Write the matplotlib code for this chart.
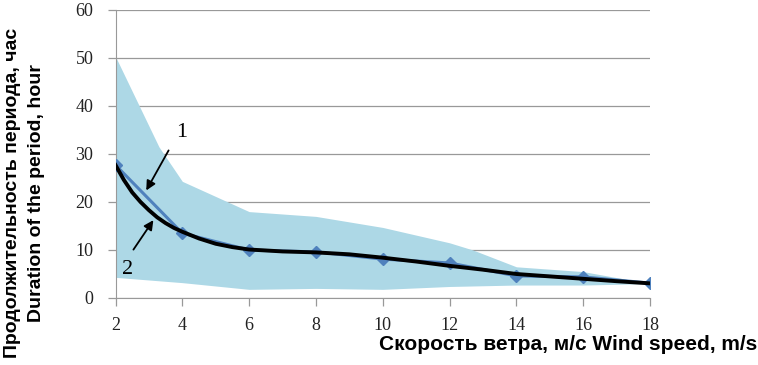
import matplotlib
matplotlib.use("Agg")
import matplotlib.pyplot as plt
import numpy as np

# Data
band_x = [2, 3.3, 4, 6, 8, 10, 12, 12.7, 14, 16, 18]
band_upper = [50.3, 31.5, 24.3, 18.0, 17.0, 14.7, 11.5, 10.0, 6.5, 5.5, 3.0]
band_lower_x = [2, 4, 6, 8, 10, 12, 14, 16, 18]
band_lower = [4.3, 3.2, 1.8, 2.0, 1.8, 2.4, 2.7, 2.7, 3.0]

speed = [2, 4, 6, 8, 10, 12, 14, 16, 18]
duration = [27.7, 13.5, 10.0, 9.6, 8.1, 7.3, 4.6, 4.4, 3.1]

trend_x = [2, 2.25, 2.5, 2.75, 3, 3.25, 3.5, 3.75, 4, 4.5, 5, 5.5, 6, 7, 8, 9, 10, 11, 12, 13, 14, 15, 16, 17, 18]
trend_y = [27.7, 24.6, 22.0, 20.0, 18.3, 16.8, 15.6, 14.6, 13.8, 12.4, 11.3, 10.6, 10.1, 9.7, 9.5, 9.1, 8.4, 7.6, 6.7, 5.9, 5.0, 4.5, 4.0, 3.5, 3.05]

xticks = [2, 4, 6, 8, 10, 12, 14, 16, 18]
yticks = [0, 10, 20, 30, 40, 50, 60]

fig = plt.figure(figsize=(7.58, 3.65), dpi=100)
ax = fig.add_axes([115.5/758, 67/365, (650-115.5)/758, 288/365])

xs = np.union1d(band_x, band_lower_x)
upper_on = np.interp(xs, band_x, band_upper)
lower_on = np.interp(xs, band_lower_x, band_lower)
ax.fill_between(xs, lower_on, upper_on, color="#add8e6", linewidth=0, zorder=2)

ax.plot(speed, duration, color="#4f81bd", lw=2.2, marker="D", ms=6, zorder=3)
ax.plot(trend_x, trend_y, color="black", lw=2.8, zorder=4)

ax.set_xlim(2, 18)
ax.set_ylim(0, 60)
ax.set_xticks(xticks)
ax.set_yticks(yticks)
ax.grid(axis="y", color="#999999", lw=0.9, zorder=0)
ax.set_axisbelow(True)
for s in ["top", "right"]:
    ax.spines[s].set_visible(False)
for s in ["left", "bottom"]:
    ax.spines[s].set_color("#999999")
ax.tick_params(axis="both", colors="#999999", length=6, width=0.9,
               labelsize=13, labelcolor="#222222")
ax.tick_params(axis="y", pad=10)
ax.tick_params(axis="x", pad=8)
for lab in ax.get_xticklabels() + ax.get_yticklabels():
    lab.set_family("Liberation Serif")

fam = ["Liberation Sans", "DejaVu Sans"]
fig.text(757/758, 20/365, "Скорость ветра, м/с Wind speed, m/s", family=fam,
         fontweight="bold", fontsize=15, ha="right", va="center")
fig.text(13/758, 172/365, "Продолжительность периода, час", family=fam,
         fontweight="bold", fontsize=14, rotation=90, ha="center", va="center")
fig.text(37/758, 172/365, "Duration of the period, hour", family=fam,
         fontweight="bold", fontsize=14, rotation=90, ha="center", va="center")

ax.annotate("", xy=(2.88, 21.9), xytext=(3.63, 31.25),
            arrowprops=dict(arrowstyle="-|>", color="black", lw=1.3, mutation_scale=14), zorder=6)
ax.annotate("", xy=(3.18, 16.7), xytext=(2.49, 9.6),
            arrowprops=dict(arrowstyle="-|>", color="black", lw=1.3, mutation_scale=14), zorder=6)
ax.text(3.99, 34.4, "1", family="Liberation Serif", fontsize=16, ha="center", va="center")
ax.text(2.37, 6.0, "2", family="Liberation Serif", fontsize=16, ha="center", va="center")

fig.savefig("out.png", dpi=100)
